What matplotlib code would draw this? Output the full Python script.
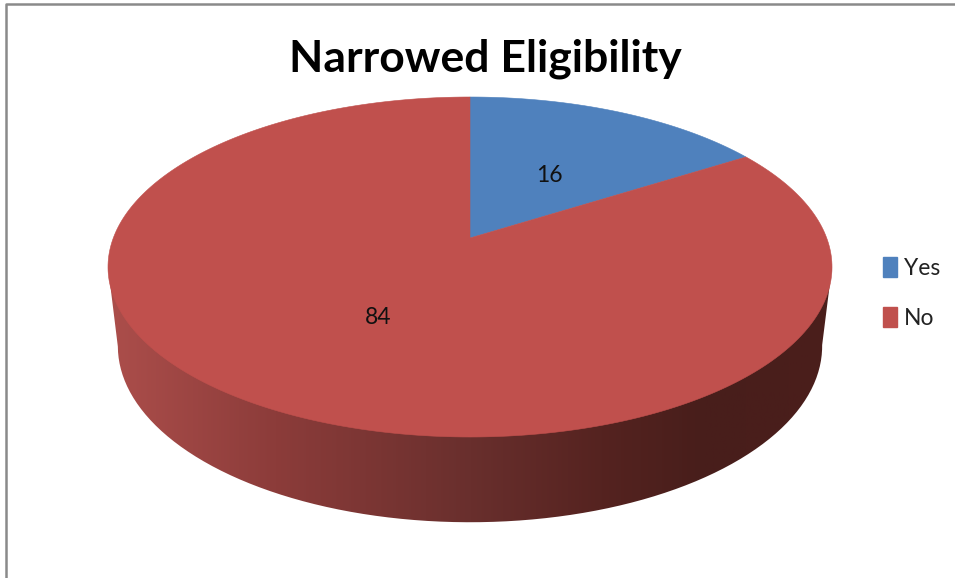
import numpy as np
import matplotlib
matplotlib.use('Agg')
import matplotlib.pyplot as plt
from matplotlib.colors import LinearSegmentedColormap
from matplotlib.patches import Patch, PathPatch
from matplotlib.path import Path

title = 'Narrowed Eligibility'
labels = ['Yes', 'No']
values = [16, 84]
colors = ['#4f81bd', '#c0504d']

plt.rcParams['font.family'] = ['Lato', 'DejaVu Sans']


# turn a pie angle (clockwise from 12 o'clock) into a point on a tilted disc
def project(theta, cx, cy, rx, b, c, k):
    w = 1 + k * np.cos(theta)
    return cx + rx * np.sin(theta) / w, cy - (b * np.cos(theta) + c) / w


top = dict(cx=470, cy=267, rx=356.7, b=170, c=29, k=0.1706)
bottom = dict(cx=470, cy=345, rx=347, b=176, c=29, k=0.1706)

fig = plt.figure(figsize=(9.55, 5.78), dpi=100)
ax = fig.add_axes([0, 0, 1, 1])

# chart border, only top and left are in the crop
ax.plot([5.5, 5.5, 955], [578, 3.5, 3.5], color='#8a8a8a', lw=1.8, zorder=1)

# side of the disc with the shading running left to right
bx, by = project(np.linspace(np.pi / 2, 3 * np.pi / 2, 200), **bottom)
tx, ty = project(np.linspace(-np.pi, np.pi, 400), **top)
left = np.argmin(tx)
right = np.argmax(tx)
side = np.column_stack([
    np.r_[tx[right], bx.max(), bx[by >= 345], tx[left]],
    np.r_[ty[right], 345, by[by >= 345], ty[left]],
])
side_cmap = LinearSegmentedColormap.from_list('side', [
    (0.0, '#ac4e4b'), (0.23, '#8c3c3a'), (0.50, '#692f2d'),
    (0.68, '#552320'), (0.82, '#481e1b'), (1.0, '#4b1e1c'),
])
img = ax.imshow(np.linspace(0, 1, 256).reshape(1, -1), cmap=side_cmap, extent=(108, 833, 530, 260),
                aspect='auto', zorder=2)
clip = PathPatch(Path(side), transform=ax.transData, fc='none', ec='none')
ax.add_patch(clip)
img.set_clip_path(clip)

# top face, slices start at 12 o'clock and go clockwise
edges = np.cumsum([0] + values) / sum(values) * 2 * np.pi
apex_x, apex_y = top['cx'], top['cy'] - top['c']
for i in range(len(values)):
    th = np.linspace(edges[i], edges[i + 1], 300)
    x, y = project(th, **top)
    ax.fill(np.r_[apex_x, x], np.r_[apex_y, y], color=colors[i], lw=0.4, zorder=3)

ax.set_xlim(0, 955)
ax.set_ylim(578, 0)
ax.axis('off')

# data labels
ax.text(549, 175.5, str(values[0]), ha='center', va='center', fontsize=16.5, color='#111111', zorder=4)
ax.text(378, 318, str(values[1]), ha='center', va='center', fontsize=16.5, color='#111111', zorder=4)

ax.text(485.5, 59, title, ha='center', va='center', fontsize=32, fontweight='bold', color='black')

handles = [Patch(color=c, label=l) for c, l in zip(colors, labels)]
ax.legend(handles=handles, loc='center left', bbox_to_anchor=(874 / 955, 1 - 293 / 578), frameon=False,
          fontsize=16.5, handlelength=0.606, handleheight=0.956, handletextpad=0.3, labelspacing=1.23,
          borderaxespad=0, labelcolor='#222222')

fig.savefig('out.png', dpi=100, facecolor='white')
